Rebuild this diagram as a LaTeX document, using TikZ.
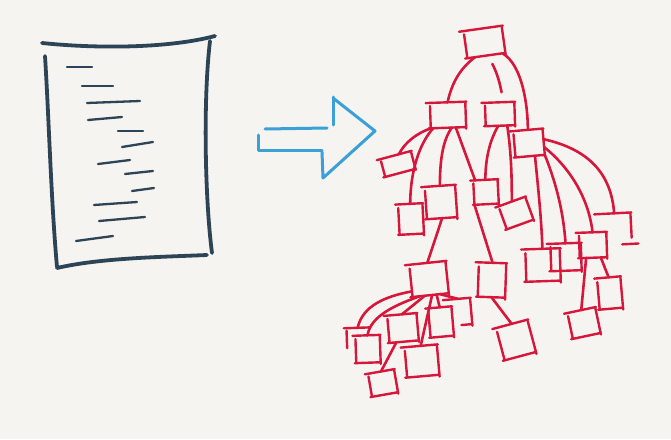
\documentclass[tikz,border=0pt]{standalone}
\usetikzlibrary{calc}
\definecolor{bg}{RGB}{245,244,240}
\definecolor{ink}{RGB}{44,68,86}
\definecolor{sky}{RGB}{58,160,214}
\definecolor{rd}{RGB}{214,22,58}
\tikzset{
  rl/.style={draw=rd, line width=2.4pt, line cap=round},
  edge/.style={draw=rd, line width=2.6pt, line cap=round},
  tb/.style={rectangle, draw=none, inner sep=0pt},
  doc/.style={draw=ink, line width=3.8pt, line cap=round},
  txt/.style={draw=ink, line width=2.3pt, line cap=round},
  arr/.style={draw=sky, line width=3pt, line cap=round, line join=round},
}
\newcommand\skT[1]{\draw[rl] ($(#1.north west)!-0.12!(#1.north east)$) -- ($(#1.north east)!-0.03!(#1.north west)$);}
\newcommand\skR[1]{\draw[rl] ($(#1.north east)!0.04!(#1.south east)$) -- ($(#1.south east)!-0.06!(#1.north east)$);}
\newcommand\skB[1]{\draw[rl] ($(#1.south east)!0.03!(#1.south west)$) -- ($(#1.south west)!-0.06!(#1.south east)$);}
\newcommand\skL[1]{\draw[rl] ($(#1.south west)!0.02!(#1.north west)$) -- ($(#1.north west)!0.12!(#1.south west)$);}
\newcommand\skbox[1]{\skT{#1}\skR{#1}\skB{#1}\skL{#1}}
\begin{document}
\begin{tikzpicture}[x=1pt,y=-1pt]
\useasboundingbox (0,0) rectangle (671,439);
\fill[bg] (0,0) rectangle (671,439);

% ---------- document ----------
\draw[doc] (42,43) .. controls (100,49) and (170,48) .. (215,36);
\draw[doc] (210,41) .. controls (203,100) and (205,200) .. (212,253);
\draw[doc] (57,268) .. controls (100,258) and (160,257) .. (207,255);
\draw[doc] (45,56) .. controls (49,120) and (51,200) .. (57,267);
\draw[txt] (67,67) -- (92,67);
\draw[txt] (82,86) -- (113,86);
\draw[txt] (87,103) -- (140,101);
\draw[txt] (88,120) -- (122,117);
\draw[txt] (118,131) -- (143,131);
\draw[txt] (122,147) -- (153,142);
\draw[txt] (98,164) -- (130,160);
\draw[txt] (125,174) -- (153,171);
\draw[txt] (132,191) -- (154,188);
\draw[txt] (94,205) -- (137,202);
\draw[txt] (99,221) -- (145,217);
\draw[txt] (76,241) -- (113,236);

% ---------- arrow ----------
\draw[arr] (265,129) -- (327,128);
\draw[arr] (258,135) -- (258,150) -- (322,150);
\draw[arr] (333,97) -- (333,125);
\draw[arr] (333,98) -- (375,131) -- (323,178) -- (322,152);

% ---------- tree nodes ----------
\node[tb, minimum width=38pt, minimum height=27pt, rotate=8]  (R)  at (484.5,42) {};
\node[tb, minimum width=35pt, minimum height=25pt, rotate=2]  (A)  at (448,115) {};
\node[tb, minimum width=29pt, minimum height=23pt, rotate=2]  (B)  at (500,114) {};
\node[tb, minimum width=29pt, minimum height=26pt, rotate=5]  (C)  at (529,143) {};
\node[tb, minimum width=31pt, minimum height=18pt, rotate=15] (D)  at (398,164) {};
\node[tb, minimum width=24pt, minimum height=30pt, rotate=3]  (E)  at (411,219) {};
\node[tb, minimum width=30pt, minimum height=32pt, rotate=4]  (F)  at (441,202) {};
\node[tb, minimum width=24pt, minimum height=24pt, rotate=3]  (G)  at (486,192) {};
\node[tb, minimum width=28pt, minimum height=24pt, rotate=20] (H)  at (516,213) {};
\node[tb, minimum width=27pt, minimum height=34pt, rotate=-2] (I)  at (492,280) {};
\node[tb, minimum width=34pt, minimum height=32pt, rotate=2]  (J)  at (543,265) {};
\node[tb, minimum width=30pt, minimum height=27pt, rotate=2]  (K)  at (566,257) {};
\node[tb, minimum width=27pt, minimum height=25pt, rotate=2]  (L)  at (593,245) {};
\node[tb, minimum width=32pt, minimum height=31pt, rotate=3]  (M)  at (615,229) {};
\node[tb, minimum width=23pt, minimum height=31pt, rotate=5]  (N)  at (610,293) {};
\node[tb, minimum width=28pt, minimum height=26pt, rotate=12] (O)  at (584,323) {};
\node[tb, minimum width=32pt, minimum height=33pt, rotate=15] (P)  at (516,340) {};
\node[tb, minimum width=36pt, minimum height=32pt, rotate=6]  (Q)  at (429,279) {};
\node[tb, minimum width=22pt, minimum height=20pt, rotate=2]  (S1) at (358,338) {};
\node[tb, minimum width=24pt, minimum height=27pt, rotate=2]  (S2) at (368,349) {};
\node[tb, minimum width=29pt, minimum height=27pt, rotate=5]  (T)  at (403,328) {};
\node[tb, minimum width=23pt, minimum height=29pt, rotate=5]  (U)  at (441,322) {};
\node[tb, minimum width=24pt, minimum height=26pt, rotate=5]  (W)  at (459,312) {};
\node[tb, minimum width=32pt, minimum height=30pt, rotate=5]  (X)  at (422,361) {};
\node[tb, minimum width=26pt, minimum height=23pt, rotate=10] (Y)  at (383,383) {};

% ---------- connectors ----------
\draw[edge] (R.-130) .. controls +(-16,12) and +(4,-18) .. (A.north);
\draw[edge] ($(R.-70)+(1,9)$) .. controls +(5,10) and +(-2,-10) .. ($(B.north)+(2,-10)$);
\draw[edge] (R.-40) .. controls +(20,12) and +(0,-24) .. (C.north);
\draw[edge] (A.south west) .. controls +(-14,5) and +(6,-12) .. (D.70);
\draw[edge] (A.-140) .. controls +(-14,15) and +(0,-32) .. (E.north);
\draw[edge] (A.-75) .. controls +(-10,14) and +(0,-22) .. (F.north);
\draw[edge] (A.-60) -- (G.130);
\draw[edge] (B.-100) .. controls +(-9,15) and +(0,-20) .. (G.north);
\draw[edge] (B.-60) .. controls +(4,25) and +(0,-25) .. (H.north);
\draw[edge] (C.-70) .. controls +(3,30) and +(-1,-30) .. (J.north);
\draw[edge] (C.south east) .. controls +(12,30) and +(-2,-30) .. (K.north);
\draw[edge] (C.-20) .. controls +(25,20) and +(-4,-35) .. (L.north);
\draw[edge] (C.10) .. controls +(45,10) and +(-3,-40) .. (M.north);
\draw[edge] (F.south) -- (Q.north);
\draw[edge] (G.south west) -- (I.north);
\draw[edge] (I.south) -- (P.north);
\draw[edge] (L.-60) -- (N.north);
\draw[edge] (L.-120) -- (O.north);
\draw[edge] (Q.-150) .. controls +(-27,5) and +(5,-22) .. (S1.north);
\draw[edge] (Q.-125) .. controls +(-22,8) and +(3,-20) .. (S2.north);
\draw[edge] (Q.-110) -- (T.north);
\draw[edge] (Q.-70) -- (U.north);
\draw[edge] (Q.-85) -- (X.north);
\draw[edge] (Q.-60) -- (W.north);
\draw[edge] (T.-120) -- (Y.north);

% ---------- boxes ----------
\foreach \b in {R,A,B,C,D,E,F,G,H,I,J,K,L,N,O,P,Q,S2,T,U,X,Y} {\skbox{\b}}
\skT{M}
\draw[rl] ($(M.north east)!0.04!(M.south east)$) -- ($(M.north east)!0.8!(M.south east)$);
\draw[rl] ($(M.south east)!-0.2!(M.south west)$) -- ($(M.south east)!0.3!(M.south west)$);
\skT{S1}\skL{S1}
\skT{W}\skR{W}
\draw[rl] ($(W.south east)!0.03!(W.south west)$) -- ($(W.south east)!0.45!(W.south west)$);
\end{tikzpicture}
\end{document}
